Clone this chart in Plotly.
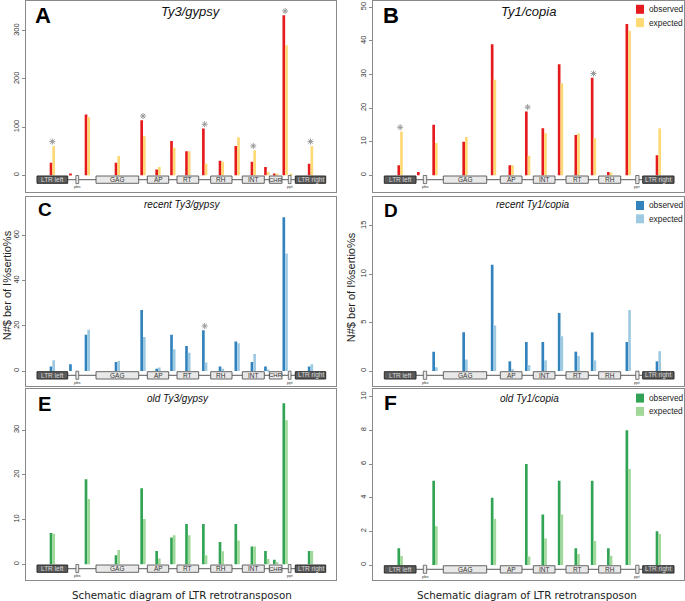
import plotly.graph_objects as go

# ---------------------------------------------------------------- data
gypsy_segments = ["LTR left", "LTR left/pbs", "pbs", "pbs/GAG", "GAG", "GAG/AP", "AP", "AP/RT",
                  "RT", "RT/RH", "RH", "RH/INT", "INT", "INT/CHR", "CHR", "CHR/ppt", "ppt",
                  "ppt/LTR right", "LTR right"]
copia_segments = ["LTR left", "LTR left/pbs", "pbs", "pbs/GAG", "GAG", "GAG/AP", "AP", "AP/INT",
                  "INT", "INT/RT", "RT", "RT/RH", "RH", "RH/ppt", "ppt", "ppt/LTR right", "LTR right"]

# A: Ty3/gypsy (all)
gypsy_all_observed = [26, 4, None, 126, 26, 114, 12, 71, 50, 97, 30, 61, 28, 17, 4, 332, None, None, 24]
gypsy_all_expected = [61, None, None, 121, 40, 81, 17, 57, 50, 24, 28, 79, 52, 7, 3.5, 270, 2, None, 61]
gypsy_all_signif = ["LTR left", "GAG/AP", "RT/RH", "INT", "CHR/ppt", "LTR right"]

# B: Ty1/copia (all)
copia_all_observed = [3, 1, None, 15, 10, 39, 3, 19, 14, 33, 12, 29, 1, 45, None, None, 6]
copia_all_expected = [13, None, None, 9.6, 11.4, 28.4, 3, 5.8, 12.6, 27.4, 12.4, 11, 0.8, 43, None, None, 14]
copia_all_signif = ["LTR left", "AP/INT", "RT/RH"]

# C: recent Ty3/gypsy
gypsy_recent_observed = [2, 3, None, 16, 4, 27, 1, 16, 11, 18, 2, 13, 4, 2, None, 68, None, None, 2]
gypsy_recent_expected = [4.7, None, None, 18.2, 4.4, 15, 1.6, 9.6, 8.1, 3.8, 1, 12.3, 7.5, 0.7, None, 52, None, None, 3]
gypsy_recent_signif = ["RT/RH"]

# D: recent Ty1/copia
copia_recent_observed = [None, None, None, 2, 4, 11, 1, 3, 3, 6, 2, 4, None, 3, None, None, 1]
copia_recent_expected = [None, None, None, 0.4, 1.2, 4.7, 0.2, 0.6, 1.1, 3.6, 1.55, 1.1, None, 6.3, None, None, 2.05]
copia_recent_signif = []

# E: old Ty3/gypsy
gypsy_old_observed = [7, None, None, 19, 2, 17, 3, 6, 9, 9, 5, 9, 4, 3, 1, 36, None, None, 3]
gypsy_old_expected = [6.8, None, None, 14.6, 3.2, 10.1, 1.3, 6.5, 6.5, 2, 2.9, 5.3, 4, 1.2, 0.5, 32.2, None, None, 3]
gypsy_old_signif = []

# F: old Ty1/copia
copia_old_observed = [1, None, None, 5, None, 4, None, 6, 3, 5, 1, 5, 1, 8, None, None, 2]
copia_old_expected = [0.53, None, None, 2.3, None, 2.75, None, 0.5, 1.57, 3, 0.65, 1.43, 0.55, 5.7, None, None, 1.85]
copia_old_signif = []

ticks_A = [0, 100, 200, 300]
ticks_B = [0, 10, 20, 30, 40, 50]
ticks_C = [0, 20, 40, 60]
ticks_D = [0, 5, 10, 15]
ticks_E = [0, 10, 20, 30]
ticks_F = [0, 2, 4, 6, 8, 10]

legend_labels = ["observed", "expected"]
x_title = "Schematic diagram of LTR retrotransposon"
y_title = "N#$ ber of I%sertio%s"

# ------------------------------------------------- schematic geometry
gypsy_elements = [("LTR left", 11.3, 42.0), ("pbs", 50.2, 53.0), ("GAG", 70.3, 113.0),
                  ("AP", 121.6, 143.0), ("RT", 151.3, 173.0), ("RH", 185.0, 206.3),
                  ("INT", 216.6, 238.6), ("CHR", 243.6, 256.3), ("ppt", 262.6, 265.3),
                  ("LTR right", 269.6, 300.0)]
copia_elements = [("LTR left", 11.0, 42.7), ("pbs", 50.0, 53.4), ("GAG", 70.0, 113.4),
                  ("AP", 127.0, 148.7), ("INT", 160.0, 181.7), ("RT", 192.7, 215.0),
                  ("RH", 225.4, 247.4), ("ppt", 262.4, 265.7), ("LTR right", 269.4, 300.7)]


def segment_centers(elements):
    c = []
    for i, (_, a, b) in enumerate(elements):
        c.append((a + b) / 2)
        if i < len(elements) - 1:
            c.append((b + elements[i + 1][1]) / 2)
    return c


W, H = 685, 601
FRAME = "#8a8a8a"
STAR = "#9a9a9a"
RED, YELLOW = "#E41A1C", "#FED976"
BLUE, LBLUE = "#3182BD", "#9ECAE1"
GREEN, LGREEN = "#31A354", "#A1D99B"
BW = 2.67

panels = [
    dict(letter="A", title="Ty3/gypsy", tsize=13, tpos=(191, 12), lpos=(32.5, 15.3), lsize=22,
         frame=(25.7, 336.0, 0.5, 191.7), yr=[-34, 362.7], ticks=ticks_A,
         seg=gypsy_segments, el=gypsy_elements, obs=gypsy_all_observed, exp=gypsy_all_expected,
         sig=gypsy_all_signif, colors=(RED, YELLOW), legend=False),
    dict(letter="B", title="Ty1/copia", tsize=13, tpos=(528, 12), lpos=(381, 15.3), lsize=22,
         frame=(373.3, 684.0, 0.5, 191.7), yr=[-4.88, 52.0], ticks=ticks_B,
         seg=copia_segments, el=copia_elements, obs=copia_all_observed, exp=copia_all_expected,
         sig=copia_all_signif, colors=(RED, YELLOW), legend=True),
    dict(letter="C", title="recent Ty3/gypsy", tsize=10, tpos=(182.3, 204.2), lpos=(35.5, 209.3), lsize=19,
         frame=(25.7, 336.0, 196.7, 386.0), yr=[-6.63, 77.06], ticks=ticks_C,
         seg=gypsy_segments, el=gypsy_elements, obs=gypsy_recent_observed, exp=gypsy_recent_expected,
         sig=gypsy_recent_signif, colors=(BLUE, LBLUE), legend=False),
    dict(letter="D", title="recent Ty1/copia", tsize=10, tpos=(533.3, 204.5), lpos=(382.2, 210), lsize=19,
         frame=(373.3, 684.0, 196.7, 386.0), yr=[-1.55, 18.03], ticks=ticks_D,
         seg=copia_segments, el=copia_elements, obs=copia_recent_observed, exp=copia_recent_expected,
         sig=copia_recent_signif, colors=(BLUE, LBLUE), legend=True),
    dict(letter="E", title="old Ty3/gypsy", tsize=10, tpos=(178, 398.5), lpos=(35.5, 403.7), lsize=20,
         frame=(25.7, 336.0, 389.3, 580.3), yr=[-3.57, 39.09], ticks=ticks_E,
         seg=gypsy_segments, el=gypsy_elements, obs=gypsy_old_observed, exp=gypsy_old_expected,
         sig=gypsy_old_signif, colors=(GREEN, LGREEN), legend=False),
    dict(letter="F", title="old Ty1/copia", tsize=10, tpos=(529.5, 398), lpos=(382.2, 402.8), lsize=21,
         frame=(373.3, 684.0, 389.3, 580.3), yr=[-0.907, 10.44], ticks=ticks_F,
         seg=copia_segments, el=copia_elements, obs=copia_old_observed, exp=copia_old_expected,
         sig=copia_old_signif, colors=(GREEN, LGREEN), legend=True),
]


def px_x(x):
    return x / W


def px_y(y):
    return 1 - y / H


fig = go.Figure()
shapes, annotations, axes = [], [], {}
SANS = "Liberation Sans, Arial, sans-serif"

for k, p in enumerate(panels):
    n = "" if k == 0 else str(k + 1)
    xa, ya = "x" + n, "y" + n
    x0, x1, y0, y1 = p["frame"]
    yr = p["yr"]
    ppu = (y1 - y0) / (yr[1] - yr[0])  # pixels per data unit
    centers = segment_centers(p["el"])
    c_obs, c_exp = p["colors"]

    fig.add_trace(go.Bar(x=centers, y=p["obs"], width=BW, offset=-BW, name=legend_labels[0],
                         marker=dict(color=c_obs, line=dict(width=0)), xaxis=xa, yaxis=ya,
                         showlegend=False, hoverinfo="skip"))
    fig.add_trace(go.Bar(x=centers, y=p["exp"], width=BW, offset=0, name=legend_labels[1],
                         marker=dict(color=c_exp, line=dict(width=0)), xaxis=xa, yaxis=ya,
                         showlegend=False, hoverinfo="skip"))

    # significance stars
    sx, sy = [], []
    for s in p["sig"]:
        i = p["seg"].index(s)
        top = max(v for v in (p["obs"][i], p["exp"][i]) if v is not None)
        sx.append(centers[i])
        sy.append(top + 4.3 / ppu)
    if sx:
        fig.add_trace(go.Scatter(x=sx, y=sy, mode="markers", xaxis=xa, yaxis=ya, showlegend=False,
                                 hoverinfo="skip",
                                 marker=dict(symbol="asterisk-open", size=5, color=STAR,
                                             line=dict(color=STAR, width=1))))

    axes["xaxis" + n] = dict(domain=[px_x(x0), px_x(x1)], range=[0, x1 - x0], anchor=ya,
                             showline=True, mirror=True, linecolor=FRAME, linewidth=1,
                             showticklabels=False, ticks="", showgrid=False, zeroline=False)
    axes["yaxis" + n] = dict(domain=[px_y(y1), px_y(y0)], range=yr, anchor=xa,
                             tickvals=p["ticks"], ticktext=[str(t) for t in p["ticks"]],
                             tickangle=-90, ticks="outside", ticklen=3, tickcolor=FRAME,
                             tickfont=dict(size=7.5, color="#333", family=SANS),
                             showline=True, mirror=True, linecolor=FRAME, linewidth=1,
                             showgrid=False, zeroline=False)

    # gene schematic below the zero line
    yt, yb = -0.7 / ppu, -8.0 / ppu
    ym = (yt + yb) / 2
    el = p["el"]
    shapes.append(dict(type="line", xref=xa, yref=ya, x0=el[0][2], x1=el[-1][1], y0=ym, y1=ym,
                       line=dict(color="#7a7a7a", width=1.3), layer="above"))
    for name, a, b in el:
        if name.startswith("LTR"):
            shapes.append(dict(type="rect", xref=xa, yref=ya, x0=a, x1=b, y0=yb, y1=yt,
                               fillcolor="#5a5a5a", line=dict(color="#2a2a2a", width=1), layer="above"))
            annotations.append(dict(x=(a + b) / 2, y=ym, xref=xa, yref=ya, text=name, showarrow=False,
                                    font=dict(size=6.5, color="#d8d8d8", family=SANS)))
        elif name in ("pbs", "ppt"):
            shapes.append(dict(type="rect", xref=xa, yref=ya, x0=a, x1=b, y0=-8.3 / ppu, y1=-0.2 / ppu,
                               fillcolor="#e8e8e8", line=dict(color="#555", width=0.8), layer="above"))
            annotations.append(dict(x=(a + b) / 2, y=-11.2 / ppu, xref=xa, yref=ya, text=name,
                                    showarrow=False, font=dict(size=4, color="#333", family=SANS)))
        else:
            shapes.append(dict(type="rect", xref=xa, yref=ya, x0=a, x1=b, y0=yb, y1=yt,
                               fillcolor="#e8e8e8", line=dict(color="#555", width=0.9), layer="above"))
            annotations.append(dict(x=(a + b) / 2, y=ym, xref=xa, yref=ya, text=name, showarrow=False,
                                    font=dict(size=6 if name == "CHR" else 6.5, color="#333", family=SANS)))

    # panel letter and title
    annotations.append(dict(x=px_x(p["lpos"][0]), y=px_y(p["lpos"][1]), xref="paper", yref="paper",
                            text="<b>%s</b>" % p["letter"], showarrow=False, xanchor="left",
                            yanchor="middle", font=dict(size=p["lsize"], color="#000", family=SANS)))
    annotations.append(dict(x=px_x(p["tpos"][0]), y=px_y(p["tpos"][1]), xref="paper", yref="paper",
                            text="<i>%s</i>" % p["title"], showarrow=False, xanchor="center",
                            yanchor="middle", font=dict(size=p["tsize"], color="#111", family=SANS)))

    # legend
    if p["legend"]:
        lx = x1 - 48
        ly = y0 + 8.8
        for j, (lab, col) in enumerate(zip(legend_labels, (c_obs, c_exp))):
            cy = ly + j * 13.3
            shapes.append(dict(type="rect", xref="paper", yref="paper",
                               x0=px_x(lx), x1=px_x(lx + 8), y0=px_y(cy + 4.5), y1=px_y(cy - 4.5),
                               fillcolor=col, line=dict(width=0)))
            annotations.append(dict(x=px_x(lx + 10.5), y=px_y(cy), xref="paper", yref="paper",
                                    text=lab, showarrow=False, xanchor="left", yanchor="middle",
                                    font=dict(size=8.3, color="#222", family=SANS)))

# axis titles
for cx in (182, 526.5):
    annotations.append(dict(x=px_x(cx), y=px_y(594.8), xref="paper", yref="paper", text=x_title,
                            showarrow=False, xanchor="center", yanchor="middle",
                            font=dict(size=10.3, color="#222", family="DejaVu Sans, sans-serif")))
for cx, cy in ((6.8, 285.5), (350.7, 287.5)):
    annotations.append(dict(x=px_x(cx), y=px_y(cy), xref="paper", yref="paper", text=y_title,
                            showarrow=False, xanchor="center", yanchor="middle", textangle=-90,
                            font=dict(size=11, color="#222", family=SANS)))

fig.update_layout(width=W, height=H, margin=dict(l=0, r=0, t=0, b=0), barmode="overlay",
                  paper_bgcolor="white", plot_bgcolor="white", showlegend=False,
                  shapes=shapes, annotations=annotations, **axes)

fig.write_html("out.html", config={"displayModeBar": False},
               post_script="document.body.style.margin='0';document.body.style.overflow='hidden';")
